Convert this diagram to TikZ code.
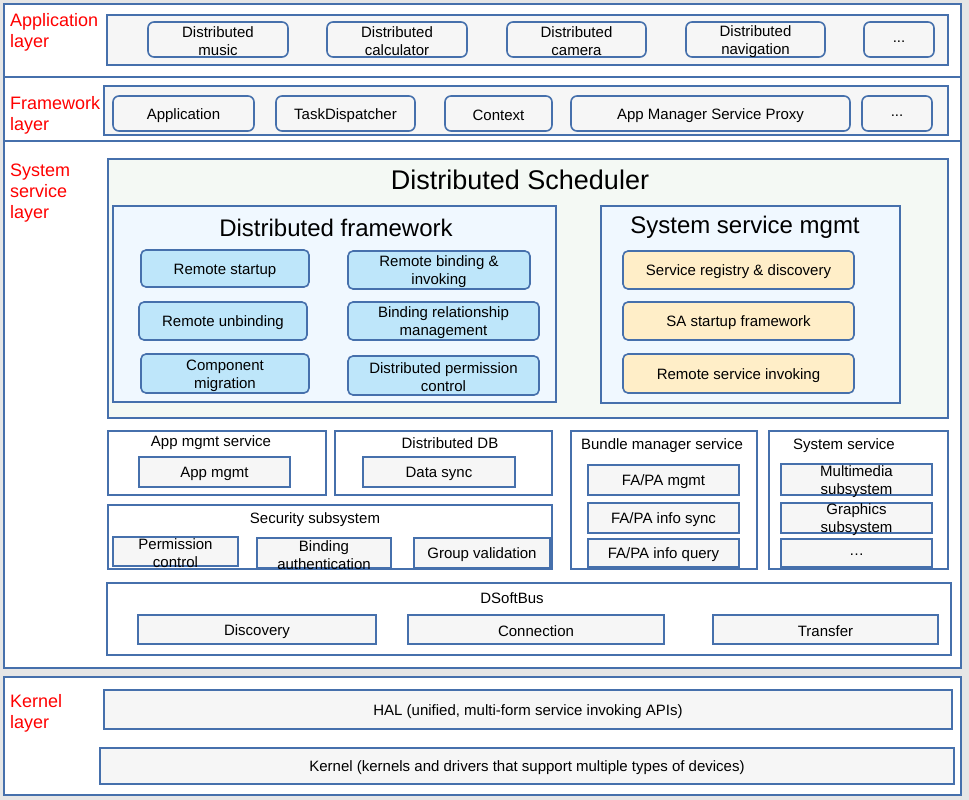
\documentclass[tikz,border=0pt]{standalone}
\usepackage{fontspec}
\setmainfont{Liberation Sans}
\usepackage{xcolor}
\usetikzlibrary{fit, positioning}
\definecolor{layerblue}{RGB}{70, 112, 172}
\definecolor{bggray}{RGB}{230, 230, 230}
\definecolor{boxgray}{RGB}{246, 246, 246}
\definecolor{schedgreen}{RGB}{244, 249, 244}
\definecolor{frameblue}{RGB}{240, 248, 255}
\definecolor{itemblue}{RGB}{190, 230, 250}
\definecolor{itemyellow}{RGB}{255, 238, 200}

\begin{document}
\begin{tikzpicture}[
                x=1pt, y=-1pt,
                % Style for the big layer frames
                layerbox/.style={
                    draw=layerblue, line width=1.8pt, fill=white
                },
                % Style for the grey group frames
                groupbox/.style={
                    draw=layerblue, line width=1.8pt, fill=boxgray
                },
                % Style for the red layer names
                layername/.style={
                    anchor=north west, inner sep=0pt, align=left,
                    text=red, font=\fontsize{18}{21}\selectfont
                },
                % Style for titles inside frames
                titletext/.style={
                    inner sep=0pt, font=\fontsize{15}{18}\selectfont
                },
                % Style for the text set in the middle of a box
                boxtext/.style={
                    label={[inner sep=0pt, align=center, yshift=-2pt,
                            font=\fontsize{15}{18}\selectfont]center:{#1}}
                },
                % Style for the rounded boxes (app & framework)
                roundbox/.style={
                    draw=layerblue, line width=1.6pt, fill=boxgray,
                    rounded corners=6pt, inner sep=0pt
                },
                % Style for the blue scheduler boxes
                blueitem/.style={
                    roundbox, fill=itemblue, rounded corners=5pt
                },
                % Style for the yellow scheduler boxes
                yellowitem/.style={
                    roundbox, fill=itemyellow, rounded corners=5pt
                },
                % Style for the plain square boxes
                plainbox/.style={
                    draw=layerblue, line width=1.8pt, fill=boxgray,
                    inner sep=0pt
                }
            ]
                % 0. Background
                \path[use as bounding box, fill=bggray] (0,0) rectangle (969,800);

                % 1. Layer frames
                \draw[layerbox] (4,4) rectangle (961,77);
                \draw[layerbox] (4,77) rectangle (961,141);
                \draw[layerbox] (4,141) rectangle (961,668);
                \draw[layerbox] (4,677) rectangle (961,795);

                \node[layername] (lapp) at (10,13) {Application\\layer};
                \node[layername] (lfw) at (10,96) {Framework\\layer};
                \node[layername] (lsys) at (10,164) {System\\service\\layer};
                \node[layername] (lkern) at (10,694) {Kernel\\layer};

                % 2. Application layer
                \draw[groupbox] (107,15) rectangle (948,65);
                \node[roundbox, fit={(148,22) (288,57)}, boxtext={Distributed\\music}] (music) {};
                \node[roundbox, fit={(327,22) (467,57)}, boxtext={Distributed\\calculator}] (calc) {};
                \node[roundbox, fit={(507,22) (646,57)}, boxtext={Distributed\\camera}] (camera) {};
                \node[roundbox, fit={(686,22) (825,57)}, boxtext={Distributed\\navigation}] (navi) {};
                \node[roundbox, fit={(864,22) (934,57)}, boxtext={...}] (appmore) {};

                % 3. Framework layer
                \draw[groupbox] (104,86) rectangle (948,135);
                \node[roundbox, fit={(113,96) (254,131)}, boxtext={Application}] (fwapp) {};
                \node[roundbox, fit={(276,96) (415,131)}, boxtext={TaskDispatcher}] (taskdisp) {};
                \node[roundbox, fit={(445,96) (552,131)}, boxtext={Context}] (context) {};
                \node[roundbox, fit={(571,96) (850,131)}, boxtext={App Manager Service Proxy}] (amsproxy) {};
                \node[roundbox, fit={(862,96) (932,131)}, boxtext={...}] (fwmore) {};

                % 4. Distributed Scheduler
                \draw[layerbox, fill=schedgreen] (108,159) rectangle (948,418);
                \node[titletext, font=\fontsize{27}{30}\selectfont] (sched) at (520,180) {Distributed Scheduler};

                \draw[layerbox, fill=frameblue] (113,206) rectangle (556,402);
                \node[titletext, font=\fontsize{24}{28}\selectfont] (dframe) at (336,228) {Distributed framework};
                \node[blueitem, fit={(141,250) (309,287)}, boxtext={Remote startup}] (rstart) {};
                \node[blueitem, fit={(139,302) (307,340)}, boxtext={Remote unbinding}] (runbind) {};
                \node[blueitem, fit={(141,354) (309,393)}, boxtext={Component\\migration}] (cmig) {};
                \node[blueitem, fit={(348,251) (530,289)}, boxtext={Remote binding \&\\invoking}] (rbind) {};
                \node[blueitem, fit={(348,302) (539,340)}, boxtext={Binding relationship\\management}] (bindrel) {};
                \node[blueitem, fit={(348,356) (539,395)}, boxtext={Distributed permission\\control}] (dperm) {};

                \draw[layerbox, fill=frameblue] (601,206) rectangle (900,403);
                \node[titletext, font=\fontsize{24}{28}\selectfont] (ssm) at (745,227) {System service mgmt};
                \node[yellowitem, fit={(623,251) (854,289)}, boxtext={Service registry \& discovery}] (sreg) {};
                \node[yellowitem, fit={(623,302) (854,340)}, boxtext={SA startup framework}] (sastart) {};
                \node[yellowitem, fit={(623,354) (854,393)}, boxtext={Remote service invoking}] (rsinv) {};

                % 5. Services under the scheduler
                \draw[layerbox] (108,431) rectangle (326,495);
                \node[titletext] (appmsvc) at (211,443) {App mgmt service};
                \node[plainbox, fit={(139,457) (290,487)}, boxtext={App mgmt}] (appm) {};

                \draw[layerbox] (335,431) rectangle (552,495);
                \node[titletext] (ddb) at (450,443) {Distributed DB};
                \node[plainbox, fit={(363,457) (515,487)}, boxtext={Data sync}] (dsync) {};

                \draw[layerbox] (108,505) rectangle (552,569);
                \node[titletext] (secsub) at (315,520) {Security subsystem};
                \node[plainbox, fit={(113,537) (238,566)}, boxtext={Permission\\control}] (permctl) {};
                \node[plainbox, fit={(257,538) (391,568)}, boxtext={Binding\\authentication}] (bindauth) {};
                \node[plainbox, fit={(414,538) (550,568)}, boxtext={Group validation}] (groupval) {};

                \draw[layerbox] (571,431) rectangle (757,569);
                \node[titletext] (bms) at (662,446) {Bundle manager service};
                \node[plainbox, fit={(588,465) (739,495)}, boxtext={FA/PA mgmt}] (famgmt) {};
                \node[plainbox, fit={(588,503) (739,533)}, boxtext={FA/PA info sync}] (fasync) {};
                \node[plainbox, fit={(588,539) (739,567)}, boxtext={FA/PA info query}] (faquery) {};

                \draw[layerbox] (769,431) rectangle (948,569);
                \node[titletext] (syssvc) at (844,446) {System service};
                \node[plainbox, fit={(781,464) (932,495)}, boxtext={Multimedia\\subsystem}] (mmsub) {};
                \node[plainbox, fit={(781,503) (932,533)}, boxtext={Graphics\\subsystem}] (gfxsub) {};
                \node[plainbox, fit={(781,539) (932,567)}, boxtext={…}] (sysmore) {};

                % 6. DSoftBus
                \draw[layerbox] (107,583) rectangle (951,655);
                \node[titletext] (dsoftbus) at (512,598) {DSoftBus};
                \node[plainbox, fit={(138,615) (376,644)}, boxtext={Discovery}] (discovery) {};
                \node[plainbox, fit={(408,615) (664,644)}, boxtext={Connection}] (connection) {};
                \node[plainbox, fit={(713,615) (938,644)}, boxtext={Transfer}] (transfer) {};

                % 7. Kernel layer
                \node[plainbox, fit={(104,690) (952,729)}, boxtext={HAL (unified, multi-form service invoking APIs)}] (hal) {};
                \node[plainbox, fit={(100,748) (954,784)}, boxtext={Kernel (kernels and drivers that support multiple types of devices)}] (kernel) {};

            \end{tikzpicture}
\end{document}
